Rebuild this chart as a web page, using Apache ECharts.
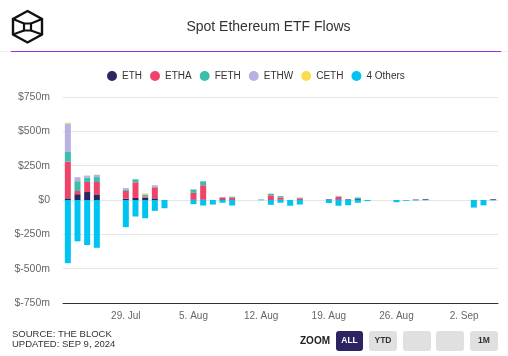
<!DOCTYPE html>
<html><head><meta charset="utf-8">
<script src="https://cdn.jsdelivr.net/npm/echarts@6/dist/echarts.min.js"></script>
<style>html,body{margin:0;padding:0;background:#fff}#c{width:508px;height:356px}</style>
</head><body><div id="c"></div>
<script>
const dates = ['2024-07-23','2024-07-24','2024-07-25','2024-07-26','2024-07-29','2024-07-30','2024-07-31','2024-08-01','2024-08-02','2024-08-05','2024-08-06','2024-08-07','2024-08-08','2024-08-09','2024-08-12','2024-08-13','2024-08-14','2024-08-15','2024-08-16','2024-08-19','2024-08-20','2024-08-21','2024-08-22','2024-08-23','2024-08-26','2024-08-27','2024-08-28','2024-08-29','2024-09-03','2024-09-04','2024-09-05'];
const ETH    = [12, 42, 58, 41, 10, 15, 16, 12, 0, 3, 3, 0, 5, 0, 0, 0, 3, 0, 0, 4, 4, 4, 6, 0, 0, 0, 0, 5, 0, 0, 5];
const ETHA   = [268, 24, 73, 90, 56, 114, 8, 80, 0, 49, 104, 0, 14, 17, 0, 34, 15, 0, 12, 0, 20, 0, 0, 0, 0, 0, 5, 0, 0, 0, 0];
const FETH   = [70, 71, 32, 36, 11, 22, 14, 4, 0, 24, 29, 0, 0, 7, 4, 12, 10, 0, 5, 0, 0, 0, 12, 0, 0, 0, 0, 0, 0, 0, 0];
const ETHW   = [207, 29, 15, 17, 10, 0, 4, 12, 0, 4, 0, 0, 0, 0, 0, 0, 0, 0, 0, 0, 6, 0, 0, 0, 0, 0, 2, 0, 0, 0, 0];
const CETH   = [6, 0, 0, 0, 0, 0, 7, 0, 0, 0, 0, 0, 0, 0, 0, 0, 0, 0, 0, 0, 0, 0, 0, 0, 0, 0, 0, 0, 0, 0, 0];
const OTHERS = [-460, -301, -328, -348, -198, -120, -133, -79, -60, -30, -40, -33, -20, -40, -2, -35, -20, -42, -33, -22, -42, -38, -20, -8, -16, -6, -4, -2, -55, -39, -3];
const seriesNames = ['ETH', 'ETHA', 'FETH', 'ETHW', 'CETH', '4 Others'];
const xTickDates = ['2024-07-29','2024-08-05','2024-08-12','2024-08-19','2024-08-26','2024-09-02'];
const xTickLabels = ['29. Jul','5. Aug','12. Aug','19. Aug','26. Aug','2. Sep'];
const yTickValues = [-750, -500, -250, 0, 250, 500, 750];
const yTickLabels = ['$-750m','$-500m','$-250m','$0','$250m','$500m','$750m'];
const axisStart = '2024-07-23';
const axisEnd = '2024-09-05';

const colors = ['#2c2660', '#f0436a', '#3dbdac', '#b9b1e0', '#fcdc4d', '#00c3f1'];
const DAY = 86400000;
// every calendar day of the axis, so weekends leave gaps like a date axis
const days = [];
for (let t = Date.parse(axisStart); t <= Date.parse(axisEnd); t += DAY) days.push(new Date(t).toISOString().slice(0, 10));
const tickMap = {};
xTickDates.forEach((d, i) => { tickMap[d] = xTickLabels[i]; });
const allSeries = [ETH, ETHA, FETH, ETHW, CETH, OTHERS];
const toDays = arr => days.map(d => { const i = dates.indexOf(d); return i < 0 ? '-' : arr[i]; });

const chart = echarts.init(document.getElementById('c'), null, {renderer: 'canvas'});
const font = '"Liberation Sans", Arial, sans-serif';
chart.setOption({
  animation: false,
  color: colors,
  textStyle: {fontFamily: font},
  legend: {
    data: seriesNames, top: 71, left: 107, padding: 0, icon: 'circle',
    itemWidth: 10, itemHeight: 10, itemGap: 8,
    textStyle: {fontSize: 10, color: '#333', fontFamily: font}
  },
  grid: {left: 63, right: 10, top: 97, height: 206, containLabel: false},
  xAxis: {
    type: 'category', data: days, boundaryGap: true,
    axisLine: {show: true, onZero: false, lineStyle: {color: '#333', width: 1}},
    axisTick: {show: false}, splitLine: {show: false},
    axisLabel: {
      margin: 8, fontSize: 10, color: '#666',
      interval: (i, v) => !!tickMap[v],
      formatter: v => tickMap[v] || ''
    }
  },
  yAxis: {
    type: 'value', min: yTickValues[0], max: yTickValues[yTickValues.length - 1], interval: 250,
    axisLine: {show: false}, axisTick: {show: false},
    splitLine: {lineStyle: {color: '#e6e6e6', width: 1}},
    axisLabel: {margin: 13, fontSize: 10.5, color: '#666',
      formatter: v => yTickLabels[yTickValues.indexOf(v)] }
  },
  series: allSeries.map((arr, k) => ({
    name: seriesNames[k], type: 'bar', stack: 'flows', barWidth: 6,
    data: toDays(arr),
    itemStyle: {color: colors[k]}
  })),
  graphic: [
    {type: 'polygon', shape: {points: [[27.5,11],[42,19],[42,34.5],[27.5,42.5],[13,34.5],[13,19]]},
     style: {fill: 'none', stroke: '#111', lineWidth: 2.4, lineJoin: 'miter'}},
    {type: 'rect', shape: {x: 24, y: 23.5, width: 7, height: 7}, style: {fill: 'none', stroke: '#111', lineWidth: 2.2}},
    {type: 'line', shape: {x1: 13, y1: 19, x2: 24, y2: 23.5}, style: {stroke: '#111', lineWidth: 2.2}},
    {type: 'line', shape: {x1: 42, y1: 19, x2: 31, y2: 23.5}, style: {stroke: '#111', lineWidth: 2.2}},
    {type: 'line', shape: {x1: 13, y1: 34.5, x2: 24, y2: 30.5}, style: {stroke: '#111', lineWidth: 2.2}},
    {type: 'line', shape: {x1: 42, y1: 34.5, x2: 31, y2: 30.5}, style: {stroke: '#111', lineWidth: 2.2}},
    {type: 'text', x: 268.5, y: 27, style: {text: 'Spot Ethereum ETF Flows', fontSize: 14, fill: '#333', fontFamily: font, align: 'center', verticalAlign: 'middle'}},
    {type: 'line', shape: {x1: 0, y1: 51.5, x2: 508, y2: 51.5}, style: {stroke: '#eeeeee', lineWidth: 1}},
    {type: 'line', shape: {x1: 11, y1: 51.5, x2: 501, y2: 51.5}, style: {stroke: '#9a2bd8', lineWidth: 1}},
    {type: 'text', x: 12, y: 329, style: {text: 'SOURCE: THE BLOCK\nUPDATED: SEP 9, 2024', fontSize: 9.5, lineHeight: 10.5, fill: '#333', fontFamily: font}},
    {type: 'text', x: 300, y: 336, style: {text: 'ZOOM', fontSize: 10, fill: '#222', fontFamily: font, fontWeight: 'bold'}},
    {type: 'rect', shape: {x: 336, y: 331, width: 27, height: 20, r: 3}, style: {fill: '#2b2461'}},
    {type: 'text', x: 349.5, y: 341, style: {text: 'ALL', fontSize: 8.5, fontWeight: 'bold', fill: '#fff', align: 'center', verticalAlign: 'middle', fontFamily: font}},
    {type: 'rect', shape: {x: 369, y: 331, width: 28, height: 20, r: 3}, style: {fill: '#e0e0e0'}},
    {type: 'text', x: 383, y: 341, style: {text: 'YTD', fontSize: 8.5, fontWeight: 'bold', fill: '#333', align: 'center', verticalAlign: 'middle', fontFamily: font}},
    {type: 'rect', shape: {x: 403, y: 331, width: 28, height: 20, r: 3}, style: {fill: '#e0e0e0'}},
    {type: 'rect', shape: {x: 436, y: 331, width: 28, height: 20, r: 3}, style: {fill: '#e0e0e0'}},
    {type: 'rect', shape: {x: 470, y: 331, width: 28, height: 20, r: 3}, style: {fill: '#e0e0e0'}},
    {type: 'text', x: 484, y: 341, style: {text: '1M', fontSize: 8.5, fontWeight: 'bold', fill: '#333', align: 'center', verticalAlign: 'middle', fontFamily: font}}
  ]
});
</script>
</body></html>
